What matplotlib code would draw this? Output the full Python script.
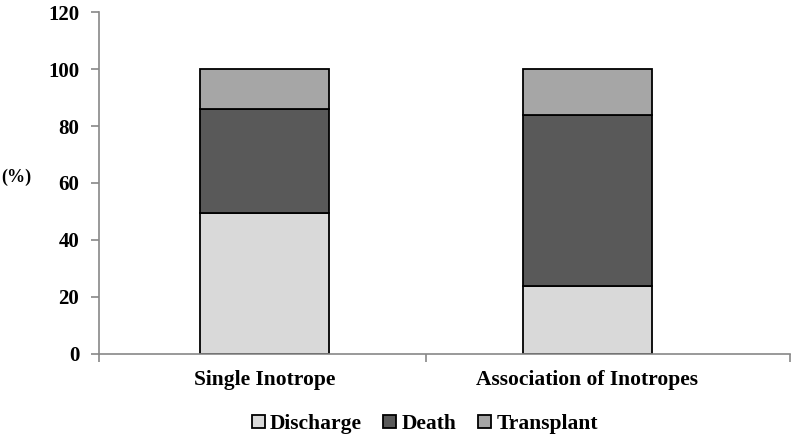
import matplotlib as mpl
mpl.use('Agg')
import matplotlib.pyplot as plt
import numpy as np

categories = ['Single Inotrope', 'Association of Inotropes']
discharge = [49.4, 24.0]
death = [36.5, 59.9]
transplant = [14.1, 16.1]
series_names = ['Discharge', 'Death', 'Transplant']
colors = ['#d9d9d9', '#595959', '#a6a6a6']

plt.rcParams['font.family'] = ['Liberation Serif', 'DejaVu Serif']
plt.rcParams['font.weight'] = 'bold'

fig = plt.figure(figsize=(7.94, 4.4), dpi=100)
ax = fig.add_axes([0.1243, 0.1955, 0.8707, 0.7772])

x = np.arange(len(categories))
bottom = np.zeros(len(categories))
handles = []
for vals, name, c in zip([discharge, death, transplant], series_names, colors):
    b = ax.bar(x, vals, 0.4, bottom=bottom, color=c, edgecolor='black',
               linewidth=1.3, label=name)
    handles.append(b)
    bottom += np.array(vals)

ax.set_ylim(0, 120)
ax.set_yticks(range(0, 121, 20))
ax.set_xlim(-0.513, 1.627)
ax.set_xticks([-0.513, 0.5, 1.627])
ax.set_xticklabels([])
ax.tick_params(axis='both', direction='out', length=6, color='#888888', width=1.2)
ax.tick_params(axis='y', labelsize=15, pad=8)
for s in ['top', 'right']:
    ax.spines[s].set_visible(False)
for s in ['left', 'bottom']:
    ax.spines[s].set_color('#888888')
    ax.spines[s].set_linewidth(1.2)

for xi, lab in zip(x, categories):
    ax.text(xi, -9.2, lab, ha='center', va='center', fontsize=15.5,
            fontweight='bold', transform=ax.transData, clip_on=False)

fig.text(16 / 794, 1 - 177 / 440, '(%)', ha='center', va='center',
         fontsize=13, fontweight='bold')

fig.legend(handles, series_names, loc='center', bbox_to_anchor=(0.535, 1 - 424 / 440),
           ncol=3, frameon=False, fontsize=15.5, handlelength=0.6, handleheight=0.6,
           handletextpad=0.25, columnspacing=1.0)

fig.savefig('out.png', dpi=100)
